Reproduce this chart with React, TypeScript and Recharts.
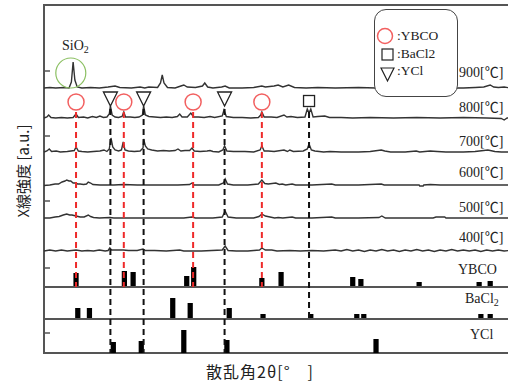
import React from "react";
import {
  ComposedChart,
  Line,
  Scatter,
  XAxis,
  YAxis,
  ReferenceLine,
  ReferenceArea,
  ReferenceDot,
} from "recharts";

// ── Data ────────────────────────────────────────────────────────────────
// Each pattern: [2θ, height above its own baseline]
const trace900: [number, number][] = [
  [10, 0], [11, 0.5], [12, 0], [13.5, 0.5], [14.3, 0], [14.7, 6], [15.0, 26], [15.3, 8],
  [15.7, 1], [16.5, 0], [18, 0.5], [19.5, 0], [21, 1], [22.2, 2], [23, 0.5], [25, 0],
  [26.5, 1], [27.3, 0], [28, 1], [29.5, 0.5], [30.0, 5], [30.3, 13], [30.6, 5], [31.2, 0.5],
  [32.5, 0], [33.5, 2], [34.0, 3], [34.6, 1], [36, 0.5], [37.2, 2], [37.6, 5], [38.1, 1],
  [39, 0], [40.5, 1], [41.1, 2], [41.8, 0], [44, 0], [46, 0.5], [47.4, 2], [48, 1],
  [49.5, 2], [50.2, 3], [51, 1], [52, 3], [53, 0.5], [55, 0], [57, 0.5], [60, 0],
  [64, 0.5], [67, 0], [70, 0.5], [73, 0], [76, 0.5], [80, 0], [82, 0], [84, 0.5],
  [85.5, 1], [86.6, 3], [87.2, 1], [88, 0.5], [89, 1], [90, 0],
];
const trace800: [number, number][] = [
  [10, 0], [10.5, 1], [10.8, 3], [11.2, 0.5], [12, 0], [13, 0.5], [14, 0], [15.0, 0.5],
  [15.5, 4], [15.9, 0.5], [16.8, 1], [17.5, 0], [18.3, 1.5], [19, 0.5], [19.6, 2], [20.2, 0.5],
  [20.8, 1], [21.2, 4], [21.4, 12], [21.7, 3], [22.2, 1], [22.8, 0.5], [23.4, 1.5], [23.7, 6],
  [24.0, 1], [24.8, 1], [25.6, 0.5], [26.3, 1], [26.9, 3], [27.1, 12], [27.4, 3], [28, 1.5],
  [29, 1], [30, 0.5], [31, 1], [32, 0.5], [32.9, 1.5], [33.3, 4], [33.7, 1], [34.6, 1],
  [35.2, 5], [35.7, 1], [36.5, 1], [37.5, 0.5], [38.5, 1.5], [39.3, 0.5], [40.6, 2], [40.9, 8],
  [41.3, 1.5], [42.5, 0.5], [44, 0.5], [45.5, 0], [46.8, 0.5], [47.2, 3], [47.4, 6], [47.8, 1],
  [49, 1], [50, 0.5], [51.2, 3], [51.7, 1], [52.4, 1.5], [53.5, 0.5], [54.8, 1], [55.2, 9],
  [55.5, 5], [55.8, 9], [56.2, 1], [57, 1.5], [58.2, 2], [59, 0.5], [61, 0.5], [63, 0],
  [66, 0.5], [70, 0], [74, 0.5], [78, 0], [82, 0.5], [86, 0], [88.5, -0.5], [89, -2],
  [89.5, 0], [90, 0],
];
const trace700: [number, number][] = [
  [10, 0], [10.5, 1], [10.9, 3], [11.3, 0.5], [12.1, 1], [12.8, 0], [14, 0.5], [15.2, 1.5],
  [15.5, 5], [15.9, 1], [16.5, 0.5], [17.5, 0], [18.5, 0.5], [19.6, 1], [20.3, 2], [20.8, 0.5],
  [21.2, 3], [21.5, 14], [21.8, 5], [22.2, 2], [22.8, 1], [23.3, 2], [23.6, 10], [23.9, 2],
  [24.5, 1], [25.5, 0.5], [26.5, 1], [27.0, 4], [27.1, 13], [27.4, 6], [27.8, 3], [28.5, 2],
  [29.5, 1], [30.5, 1.5], [31.5, 1], [32.5, 1.5], [33.0, 3], [33.5, 1], [34.2, 1.5], [35.0, 1.5],
  [35.4, 4], [35.8, 1], [36.8, 0.5], [38.0, 1], [38.5, 1.5], [39.0, 0.5], [40.0, 0], [40.7, 2],
  [41.0, 6], [41.4, 1], [42.5, 0.5], [44.5, 0.5], [46, 0], [47.1, 2], [47.4, 6], [47.8, 1],
  [48.5, 1], [49.5, 0.5], [51.2, 2], [51.8, 0.5], [52.2, 2], [52.8, 0.5], [54.5, 1], [55.2, 3],
  [55.5, 8], [55.9, 2], [56.5, 1], [58, 0], [59.1, 0.5], [61, 0], [64, 0], [66, 0.5],
  [67.9, 2], [68.5, 1], [69.5, 0], [72, 0], [73.9, 1], [74.5, 0], [76.3, 1], [77.5, 0.5],
  [79, 0], [82, 0], [84, 0.5], [86.2, 2], [87.4, 0.5], [88.5, 0], [90, 0],
];
const trace600: [number, number][] = [
  [10, -0.5], [11, 0], [11.9, 1], [12.5, 1], [13.1, 3], [13.6, 4], [13.9, 5], [14.3, 4],
  [14.6, 4], [15.0, 2], [15.3, 2], [15.8, 1], [16.2, 1], [16.8, 0.5], [17.3, 1], [17.6, 3],
  [18.0, 2], [18.4, 0.5], [19.6, 0], [22, 0], [23.6, 0.5], [26, 0], [30, 0], [33, 0],
  [35.0, 0.5], [35.4, 2], [35.8, 0], [38, 0], [40, 0], [40.8, 2], [41.1, 6], [41.5, 1],
  [42.5, 0], [45, 0], [46.8, 1], [47.4, 5], [47.9, 1.5], [48.5, 1], [49.8, 2], [50.4, 0.5],
  [50.9, 1], [51.5, 0], [52.6, 1], [53.2, 0], [56, 0], [59.4, 1], [60, 0], [64, 0],
  [67.9, 1], [68.4, 0], [72, 0], [74.4, 0], [74.5, -1], [75.1, -1], [75.2, 0], [76.3, 0.5],
  [78, 0], [82, 0], [86, 0], [90, 0],
];
const trace500: [number, number][] = [
  [10, 0], [11, 0], [11.9, 1], [12.6, 1.5], [13.3, 3], [13.9, 4], [14.4, 3], [14.8, 3],
  [15.5, 2], [16.2, 1], [16.9, 1], [17.6, 3], [18.0, 1.5], [18.5, 0.5], [19.5, 0], [21.3, 0.5],
  [22, 0], [26, 0], [30, 0], [34, 0], [35.4, 1], [36, 0], [39, 0], [40.6, 1],
  [41.1, 7], [41.6, 1], [43, 0], [46, 0], [46.9, 1.5], [47.4, 4], [48, 2], [48.8, 1],
  [49.6, 0], [50.2, 0.5], [51, 0], [52.6, 1], [53.2, 0], [56, 0], [59.4, 1], [60, 0],
  [64, 0], [67.5, 0.5], [68.0, 2], [68.6, 0], [72, 0], [76.8, 0], [77.3, 1], [78.8, 1],
  [79.0, 0], [82, 0], [86, 0], [90, 0],
];
const trace400: [number, number][] = [
  [10, 0], [11, 1], [12, 0], [13, 1], [14, 0], [15.5, 1], [16.5, 0], [17.5, 0.5],
  [18.5, 0], [19.5, 1], [20.5, 0], [21.0, 0.5], [21.3, 3], [21.6, 1], [22.5, 1], [23.6, 1],
  [24.5, 0.5], [26, 0.5], [27.0, 2], [27.4, 0.5], [29, 0.5], [31, 0], [33.3, 1], [34, 0],
  [37, 0], [40.6, 1], [41.1, 5], [41.6, 0.5], [43, 0], [45, 0], [47, 1], [47.4, 3],
  [48, 1], [49.1, 1], [50, 0], [52.2, 0.5], [54, 0], [56, 0.5], [58, 0], [60, 1],
  [61, 0], [62, 1.5], [63, 0], [64, 1], [65, -0.5], [66, 1], [67, 0], [68, 1.5],
  [69, 0], [70, 1], [71, -0.5], [72, 1], [73, 0], [74, 1.5], [75, 0], [76, 1],
  [77, -0.5], [78, 1], [79, 0], [80, 1.5], [81, 0], [82, 1], [83, 0], [84, 1],
  [85, -0.5], [86, 1], [87, 0], [88, 1], [89, 0], [90, 0.5],
];

const traces = [trace900, trace800, trace700, trace600, trace500, trace400];
const traceOffsets = [265, 235, 201, 168, 135, 102];
const traceLabels = ["900[℃]", "800[℃]", "700[℃]", "600[℃]", "500[℃]", "400[℃]"];

// reference sticks: [2θ, height]
const ybcoSticks: [number, number][] = [
  [15.5, 14], [23.8, 16], [25.3, 15], [34.5, 11], [35.7, 20], [47.4, 9],
  [50.7, 15], [63.0, 10], [64.4, 8], [74.4, 5], [84.7, 5], [86.6, 6],
];
const bacl2Sticks: [number, number][] = [
  [15.8, 11], [17.8, 11], [32.1, 21], [35.1, 16], [41.8, 11], [47.6, 5],
  [55.8, 5], [63.7, 5], [64.9, 5], [85.0, 5], [86.6, 5],
];
const yclSticks: [number, number][] = [
  [21.9, 11], [26.7, 12], [34.0, 23], [41.4, 13], [67.0, 14],
];
const stickSets = [ybcoSticks, bacl2Sticks, yclSticks];
const stickBaselines = [66, 34, 0];

// phase markers on the 800 ℃ pattern
const ybcoPeaks = [15.5, 23.7, 35.6, 47.4];
const yclPeaks = [21.4, 27.1, 41.0];
const bacl2Peaks = [55.5];

const xTicks = [20, 30, 40, 50, 60, 70, 80];
const yTicks = [282, 217, 152, 85, 20];

// ── Layout ──────────────────────────────────────────────────────────────
const W = 520;
const H = 382;
const LEFT = 44;
const TOP = 5;
const RIGHT = 510;
const FRAME = "#555";
const TRACE = "#333";
const RED = "#ee2a2a";
const SERIF = '"Liberation Serif", "Noto Sans CJK JP", serif';

const Circle = (p: any) => (
  <circle cx={p.cx} cy={p.cy} r={8} fill="#fff" stroke="#f26060" strokeWidth={1.5} />
);
const Tri = (p: any) => (
  <path
    d={`M${p.cx - 7},${p.cy - 7} L${p.cx + 7},${p.cy - 7} L${p.cx},${p.cy + 7} Z`}
    fill="#fff"
    stroke="#222"
    strokeWidth={1.3}
  />
);
const Sq = (p: any) => (
  <rect x={p.cx - 5.5} y={p.cy - 5.5} width={11} height={11} fill="#fff" stroke="#222" strokeWidth={1.3} />
);

const label = (left: number, top: number, extra: React.CSSProperties = {}) =>
  ({
    position: "absolute",
    left,
    top,
    transform: "translateY(-50%)",
    fontFamily: SERIF,
    fontSize: 14,
    color: "#222",
    lineHeight: 1,
    whiteSpace: "nowrap",
    ...extra,
  }) as React.CSSProperties;

export default function App() {
  const lineData = traces.map((t, i) =>
    t.map(([x, h]) => ({ x, y: traceOffsets[i] + h })),
  );
  const labelTops = [73, 108, 142, 173, 208, 238];

  return (
    <div style={{ position: "absolute", left: 0, top: 0, width: 508, height: 382, overflow: "hidden", background: "#fff" }}>
      <ComposedChart
        width={W}
        height={H}
        margin={{ top: TOP - 1, right: W - RIGHT - 1, bottom: 28, left: LEFT - 1 }}
      >
        <XAxis xAxisId={0} type="number" dataKey="x" domain={[10, 90]} height={1} tick={false} axisLine={false} tickLine={false} />
        <XAxis
          xAxisId="top"
          orientation="top"
          type="number"
          dataKey="x"
          domain={[10, 90]}
          ticks={xTicks}
          height={1}
          tickLine={false}
          axisLine={false}
          tick={(p: any) => (
            <line x1={p.x} x2={p.x} y1={TOP} y2={TOP + 6} stroke={FRAME} strokeWidth={1.5} />
          )}
        />
        <YAxis
          yAxisId={0}
          type="number"
          dataKey="y"
          domain={[0, 348]}
          ticks={yTicks}
          width={1}
          tickLine={false}
          axisLine={false}
          tick={(p: any) => (
            <line x1={LEFT} x2={LEFT + 6} y1={p.y} y2={p.y} stroke={FRAME} strokeWidth={1.5} />
          )}
        />
        <YAxis
          yAxisId="r"
          orientation="right"
          type="number"
          domain={[0, 348]}
          ticks={yTicks}
          width={1}
          tickLine={false}
          axisLine={false}
          tick={(p: any) => (
            <line x1={RIGHT - 6} x2={RIGHT} y1={p.y} y2={p.y} stroke={FRAME} strokeWidth={1.5} />
          )}
        />

        {/* plot frame */}
        <ReferenceArea x1={10} x2={90} y1={0} y2={348} fill="none" stroke={FRAME} strokeWidth={2} />

        {stickBaselines.slice(0, 2).map((b) => (
          <ReferenceLine key={`b${b}`} y={b} stroke={FRAME} strokeWidth={2} />
        ))}

        {stickSets.map((set, si) =>
          set.map(([x, h]) => (
            <ReferenceArea
              key={`s${si}-${x}`}
              x1={x - 0.45}
              x2={x + 0.45}
              y1={stickBaselines[si]}
              y2={stickBaselines[si] + h}
              fill="#000"
              fillOpacity={1}
              stroke="none"
            />
          )),
        )}

        {lineData.map((d, i) => (
          <Line
            key={traceLabels[i]}
            data={d}
            dataKey="y"
            type="linear"
            stroke={TRACE}
            strokeWidth={1.4}
            dot={false}
            activeDot={false}
            isAnimationActive={false}
          />
        ))}

        {ybcoPeaks.map((x) => (
          <ReferenceLine
            key={`r${x}`}
            segment={[{ x, y: 241 }, { x, y: 66 }]}
            stroke={RED}
            strokeWidth={2}
            strokeDasharray="6 4"
          />
        ))}
        {yclPeaks.map((x) => (
          <ReferenceLine
            key={`k${x}`}
            segment={[{ x, y: 244 }, { x, y: 0 }]}
            stroke="#111"
            strokeWidth={2}
            strokeDasharray="6 4"
          />
        ))}
        {bacl2Peaks.map((x) => (
          <ReferenceLine
            key={`q${x}`}
            segment={[{ x, y: 241 }, { x, y: 34 }]}
            stroke="#111"
            strokeWidth={2}
            strokeDasharray="6 4"
          />
        ))}

        <Scatter data={ybcoPeaks.map((x) => ({ x, y: 251 }))} dataKey="y" shape={Circle} isAnimationActive={false} />
        <Scatter data={yclPeaks.map((x) => ({ x, y: 254 }))} dataKey="y" shape={Tri} isAnimationActive={false} />
        <Scatter data={bacl2Peaks.map((x) => ({ x, y: 252 }))} dataKey="y" shape={Sq} isAnimationActive={false} />

        <ReferenceDot x={14.6} y={280} r={15} fill="none" stroke="#8cc063" strokeWidth={1.2} />
      </ComposedChart>

      {/* legend box */}
      <div
        style={{
          position: "absolute",
          left: 374,
          top: 9,
          width: 82,
          height: 86,
          border: "1.5px solid #444",
          borderRadius: 12,
          background: "#fff",
        }}
      >
        <svg width={24} height={70} style={{ position: "absolute", left: 0, top: 14 }}>
          <circle cx={10} cy={12} r={7.5} fill="none" stroke="#f26060" strokeWidth={1.5} />
          <rect x={7} y={25} width={11} height={11} fill="none" stroke="#222" strokeWidth={1.2} />
          <path d="M6,44 L19,44 L12.5,57 Z" fill="none" stroke="#222" strokeWidth={1.2} />
        </svg>
        <div style={label(22, 26, { fontSize: 13.5 })}>:YBCO</div>
        <div style={label(22, 44, { fontSize: 13.5 })}>:BaCl2</div>
        <div style={label(22, 61, { fontSize: 13.5 })}>:YCl</div>
      </div>

      {traceLabels.map((t, i) => (
        <div key={t} style={label(459, labelTops[i])}>
          {t}
        </div>
      ))}
      <div style={label(458, 270)}>YBCO</div>
      <div style={label(465, 300)}>
        BaCl<sub style={{ fontSize: 10, verticalAlign: "-3px" }}>2</sub>
      </div>
      <div style={label(470, 335)}>YCl</div>
      <div style={label(62, 47)}>
        SiO<sub style={{ fontSize: 10, verticalAlign: "-3px" }}>2</sub>
      </div>

      {/* axis titles */}
      <div
        style={{
          position: "absolute",
          left: 22,
          top: 171,
          transform: "translate(-50%, -50%) rotate(-90deg)",
          fontFamily: '"Noto Sans CJK JP", sans-serif',
          fontSize: 15,
          color: "#222",
          whiteSpace: "nowrap",
          lineHeight: 1,
        }}
      >
        X線強度 [a.u.]
      </div>
      <div
        style={{
          position: "absolute",
          left: 260,
          top: 371,
          transform: "translate(-50%, -50%)",
          fontFamily: '"Noto Sans CJK JP", serif',
          fontSize: 16,
          color: "#222",
          whiteSpace: "nowrap",
          lineHeight: 1,
          letterSpacing: 1,
        }}
      >
        散乱角2θ[°　]
      </div>
    </div>
  );
}
